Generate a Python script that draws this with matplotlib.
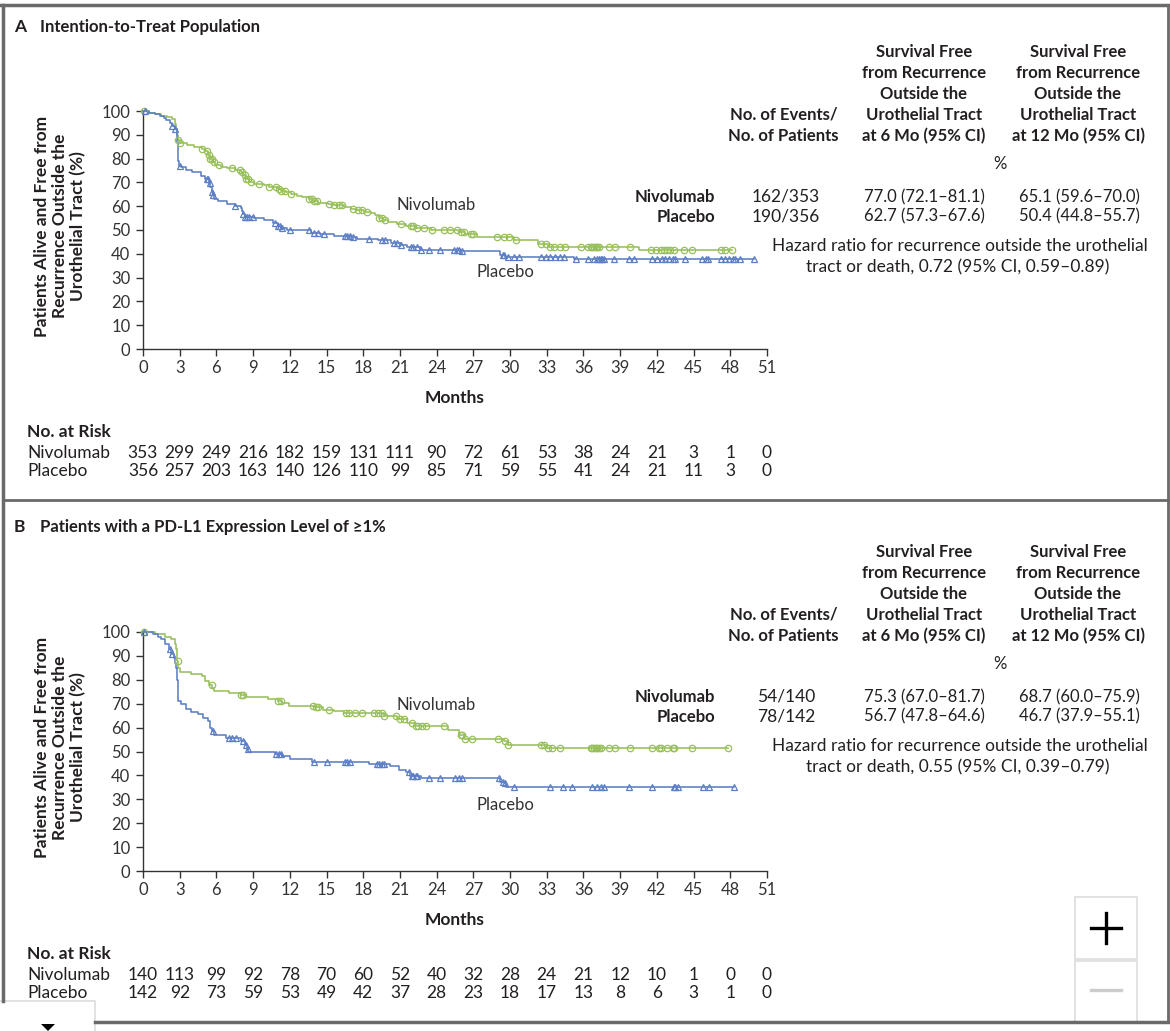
import matplotlib
matplotlib.use("Agg")
import matplotlib.pyplot as plt
import numpy as np
from matplotlib import transforms
from matplotlib.patches import Rectangle, Polygon

plt.rcParams["font.family"] = ["Lato", "DejaVu Sans"]

# ---- data: panel A (intention-to-treat) ----
a_niv_t = [0, 0.5, 1.0, 1.5, 2.0, 2.4, 2.6, 2.7, 2.8, 2.9, 3.0, 3.6, 4.2, 4.8, 5.1,
           5.3, 5.5, 5.7, 5.9, 6.4, 6.9, 7.5, 8.0, 8.2, 8.4, 8.7, 9.1, 9.9, 10.3, 11.0,
           11.3, 11.7, 12.1, 12.6, 13.0, 13.6, 13.9, 14.3, 15.1, 15.6, 16.4, 17.0, 17.5,
           18.1, 18.6, 19.0, 19.3, 19.6, 20.0, 20.8, 21.5, 22.3, 23.5, 25.8, 26.3, 27.3,
           30.3, 32.3, 33.2, 40.5]
a_niv_s = [100, 99.3, 98.6, 98.0, 97.5, 96.5, 94.5, 92.5, 90, 88, 86.5, 85.7, 85.0, 84.2,
           83.0, 81.5, 80.0, 78.5, 77.3, 76.6, 75.9, 75.2, 74.2, 73.0, 71.5, 70.3, 69.5,
           68.7, 68.0, 67.3, 66.5, 65.8, 65.0, 64.4, 63.8, 63.0, 62.2, 61.4, 60.8, 60.3,
           59.7, 59.0, 58.2, 57.6, 57.0, 56.2, 55.2, 54.2, 53.2, 52.5, 51.8, 50.8, 50.0,
           49.3, 48.3, 47.0, 45.6, 44.3, 42.8, 41.4]
a_niv_cens = [0.1, 2.9, 3.0, 4.8, 5.2, 5.4, 5.5, 5.6, 5.8, 6.2, 7.3, 7.9, 8.1, 8.3, 8.4,
              8.6, 8.8, 9.5, 10.3, 10.9, 11.1, 11.3, 11.6, 12.1, 13.6, 13.8, 14.0, 14.2,
              15.2, 15.6, 16.0, 16.3, 17.2, 17.6, 17.9, 18.3, 19.3, 19.5, 19.8, 21.05, 21.9,
              22.1, 22.4, 23.0, 23.6, 24.6, 25.1, 25.7, 26.0, 26.2, 26.8, 27.0, 28.9, 29.5,
              29.9, 30.5, 32.5, 32.9, 33.3, 33.6, 34.1, 34.5, 35.8, 36.4, 36.6, 36.7, 36.9,
              37.0, 37.1, 37.3, 38.1, 38.6, 39.8, 41.5, 41.9, 42.3, 42.6, 42.8, 43.1, 43.4,
              44.2, 44.9, 47.2, 47.6, 48.1]
a_pla_t = [0, 0.5, 1.0, 1.4, 1.7, 1.9, 2.2, 2.4, 2.6, 2.75, 2.8, 2.85, 2.9, 2.95, 3.1,
           3.5, 4.0, 4.7, 5.1, 5.4, 5.5, 5.6, 5.7, 5.8, 6.1, 6.9, 7.5, 8.0, 8.1, 8.2, 8.3,
           9.1, 9.9, 10.6, 11.0, 11.4, 11.8, 13.7, 14.5, 15.6, 17.0, 17.5, 19.2, 20.3,
           21.1, 21.6, 22.7, 26.0, 29.2, 29.6, 35.2]
a_pla_s = [100, 99.2, 98.6, 98.0, 97.2, 96.2, 95.0, 93.8, 92.5, 90.5, 87, 83, 79, 77,
           76.3, 75.3, 74.2, 72.8, 71.4, 69.6, 68.0, 66.0, 64.5, 63.0, 62.0, 61.0, 60.2,
           59.4, 58.0, 56.8, 55.5, 54.9, 54.2, 52.9, 51.8, 50.8, 50.2, 48.7, 48.2, 47.6,
           47.1, 46.1, 45.7, 44.7, 43.7, 42.7, 41.8, 41.0, 39.6, 38.8, 37.8]
a_pla_cens = [0.2, 2.4, 2.6, 3.0, 5.2, 5.3, 5.45, 5.6, 5.75, 7.5, 8.2, 8.35, 8.5, 8.7,
              9.0, 10.8, 11.0, 11.2, 11.4, 12.0, 13.6, 14.0, 14.3, 14.8, 16.5, 16.7, 16.9,
              17.2, 18.5, 19.5, 19.8, 20.5, 20.8, 21.1, 21.9, 22.1, 22.4, 22.7, 23.4, 24.3,
              25.4, 25.7, 25.8, 26.1, 29.4, 29.5, 29.8, 30.3, 30.7, 32.5, 32.9, 33.3, 33.7,
              34.1, 34.4, 35.4, 36.4, 36.9, 37.1, 37.3, 37.4, 37.5, 37.7, 38.5, 39.7, 40.1,
              41.6, 42.0, 42.4, 42.7, 43.0, 43.3, 43.5, 44.3, 45.7, 46.0, 46.2, 47.2, 47.6,
              47.9, 48.2, 48.4, 48.8, 49.9]
a_risk_niv = [353, 299, 249, 216, 182, 159, 131, 111, 90, 72, 61, 53, 38, 24, 21, 3, 1, 0]
a_risk_pla = [356, 257, 203, 163, 140, 126, 110, 99, 85, 71, 59, 55, 41, 24, 21, 11, 3, 0]
a_events = ["162/353", "190/356"]
a_six_mo = ["77.0 (72.1\u201381.1)", "62.7 (57.3\u201367.6)"]
a_twelve_mo = ["65.1 (59.6\u201370.0)", "50.4 (44.8\u201355.7)"]
a_hr = ["Hazard ratio for recurrence outside the urothelial",
        "tract or death, 0.72 (95% CI, 0.59\u20130.89)"]

# ---- data: panel B (PD-L1 >= 1%) ----
b_niv_t = [0, 1.0, 1.8, 2.3, 2.6, 2.7, 2.8, 2.9, 3.0, 3.9, 4.85, 5.1, 5.4, 5.65, 5.8,
           7.0, 8.0, 8.4, 10.2, 11.0, 11.4, 11.9, 14.0, 14.7, 15.6, 16.4, 19.7, 20.8,
           21.6, 22.2, 24.9, 25.8, 26.2, 29.5, 29.8, 33.0]
b_niv_s = [100, 99, 98, 97, 95, 93, 88, 85, 83.2, 82.4, 81.5, 79.7, 78, 76.5, 75.2,
           74.4, 73.7, 72.6, 71.9, 71.2, 70.3, 68.9, 68.5, 67.5, 66.8, 66.2, 65.0, 63.4,
           61.8, 60.5, 59.1, 57.0, 55.3, 54.2, 52.8, 51.4]
b_niv_cens = [0.05, 2.85, 5.6, 8.0, 8.2, 11.0, 11.3, 13.9, 14.1, 14.3, 15.2, 16.6, 16.8,
              17.3, 17.9, 18.9, 19.2, 19.5, 19.7, 20.7, 21.0, 21.3, 22.0, 22.3, 22.5, 22.8,
              23.1, 24.6, 26.0, 26.1, 26.3, 26.9, 29.0, 29.6, 29.85, 32.5, 32.8, 33.1, 33.4,
              34.1, 36.6, 36.7, 36.9, 37.0, 37.1, 37.3, 37.4, 38.1, 38.6, 39.8, 41.6, 42.2,
              42.3, 42.8, 43.3, 43.4, 44.9, 47.8]
b_pla_t = [0, 0.8, 1.2, 1.5, 1.8, 2.1, 2.3, 2.5, 2.6, 2.7, 2.8, 2.85, 2.9, 3.1, 3.5,
           3.9, 4.5, 4.9, 5.3, 5.5, 5.6, 5.8, 6.8, 8.0, 8.3, 8.5, 8.6, 10.8, 11.4, 12.0,
           13.8, 18.2, 18.5, 20.2, 20.9, 21.5, 21.8, 22.7, 29.2, 29.5, 29.7]
b_pla_s = [100, 99, 98, 97, 95, 93, 91, 89, 87, 85, 80, 75, 71, 69.7, 67.6, 66.4, 65.7,
           64, 62.6, 59.9, 58.5, 57.1, 55.7, 54.3, 52.9, 51, 50, 48.9, 48, 47, 45.8, 45.5,
           44.9, 43.8, 42.4, 41.3, 39.6, 38.9, 37.4, 36.8, 35.3]
b_pla_cens = [0.1, 2.2, 2.4, 5.7, 7.0, 7.3, 7.6, 8.2, 8.4, 8.55, 10.9, 11.1, 11.3, 14.0,
              15.0, 16.5, 16.7, 16.9, 19.1, 19.3, 19.5, 19.7, 21.7, 22.0, 22.1, 22.3, 22.4,
              23.4, 24.3, 25.5, 25.8, 26.1, 29.1, 29.4, 29.6, 30.3, 33.3, 34.3, 35.1, 36.7,
              37.1, 37.4, 37.7, 39.7, 41.6, 43.4, 43.5, 43.7, 45.8, 46.3, 48.3]
b_risk_niv = [140, 113, 99, 92, 78, 70, 60, 52, 40, 32, 28, 24, 21, 12, 10, 1, 0, 0]
b_risk_pla = [142, 92, 73, 59, 53, 49, 42, 37, 28, 23, 18, 17, 13, 8, 6, 3, 1, 0]
b_events = ["54/140", "78/142"]
b_six_mo = ["75.3 (67.0\u201381.7)", "56.7 (47.8\u201364.6)"]
b_twelve_mo = ["68.7 (60.0\u201375.9)", "46.7 (37.9\u201355.1)"]
b_hr = ["Hazard ratio for recurrence outside the urothelial",
        "tract or death, 0.55 (95% CI, 0.39\u20130.79)"]

months = list(range(0, 52, 3))
groups = ["Nivolumab", "Placebo"]
col6_head = ["Survival Free", "from Recurrence", "Outside the", "Urothelial Tract",
             "at 6 Mo (95% CI)"]
col12_head = ["Survival Free", "from Recurrence", "Outside the", "Urothelial Tract",
              "at 12 Mo (95% CI)"]
events_head = ["No. of Events/", "No. of Patients"]
ylabel_lines = ["Patients Alive and Free from", "Recurrence Outside the",
                "Urothelial Tract (%)"]

GREEN = "#98c05a"
BLUE = "#5b7ec4"
INK = "#231f20"
W, H = 1170, 1031

fig = plt.figure(figsize=(W / 100, H / 100), dpi=100)
bg = fig.add_axes([0, 0, 1, 1], zorder=0)
bg.set_xlim(0, W)
bg.set_ylim(H, 0)
bg.axis("off")


def txt(x, y, s, size=12, bold=False, ha="left", **kw):
    bg.text(x, y, s, fontsize=size, fontweight="bold" if bold else "normal",
            ha=ha, va="center", color=kw.pop("color", INK), **kw)


def km(ax, t, s, cens, color, marker):
    t = np.asarray(t, float)
    s = np.asarray(s, float)
    c = np.asarray(cens, float)
    tt = np.append(t, c.max())
    ss = np.append(s, s[-1])
    ax.step(tt, ss, where="post", color=color, lw=1.15, clip_on=False, zorder=3)
    idx = np.searchsorted(t, c, side="right") - 1
    ax.plot(c, s[idx], ls="none", marker=marker, mfc="none", mec=color, ms=4.6,
            mew=0.9, clip_on=False, zorder=4)


panels = [
    dict(letter="A", title="Intention-to-Treat Population", dy=0, ax_top=111,
         ax_bot=349, niv=(a_niv_t, a_niv_s, a_niv_cens), pla=(a_pla_t, a_pla_s, a_pla_cens),
         risk=(a_risk_niv, a_risk_pla), events=a_events, six=a_six_mo,
         twelve=a_twelve_mo, hr=a_hr, lab_niv=205, lab_pla=272),
    dict(letter="B", title="Patients with a PD-L1 Expression Level of \u22651%", dy=500,
         ax_top=632, ax_bot=871, niv=(b_niv_t, b_niv_s, b_niv_cens),
         pla=(b_pla_t, b_pla_s, b_pla_cens), risk=(b_risk_niv, b_risk_pla),
         events=b_events, six=b_six_mo, twelve=b_twelve_mo, hr=b_hr,
         lab_niv=705, lab_pla=805),
]

for p in panels:
    dy = p["dy"]
    top, bot = p["ax_top"], p["ax_bot"]
    ax = fig.add_axes([143 / W, 1 - bot / H, 624 / W, (bot - top) / H], zorder=2)
    ax.patch.set_alpha(0)
    ax.set_xlim(0, 51)
    ax.set_ylim(0, 100)
    ax.set_xticks(months)
    ax.set_yticks(range(0, 101, 10))
    for sp in ["top", "right"]:
        ax.spines[sp].set_visible(False)
    for sp in ["left", "bottom"]:
        ax.spines[sp].set_color("#333333")
        ax.spines[sp].set_linewidth(1.0)
    ax.tick_params(direction="out", length=5, width=1, colors="#333333",
                   labelsize=12, pad=3)
    ax.tick_params(axis="y", pad=4)
    km(ax, *p["niv"], GREEN, "o")
    km(ax, *p["pla"], BLUE, "^")

    # titles and axis labels
    txt(14, 27 + dy, p["letter"], size=12.5, bold=True)
    txt(40, 27 + dy, p["title"], size=12, bold=True)
    for i, line in enumerate(ylabel_lines):
        bg.text(42 + 18 * i, (top + bot) / 2 - 4, line, rotation=90, ha="center",
                va="center", fontsize=12.5, fontweight="bold", color=INK)
    txt(455, bot + 49, "Months", size=12.5, bold=True, ha="center")
    txt(436, p["lab_niv"], "Nivolumab", size=12, ha="center", color="#333333")
    txt(505, p["lab_pla"], "Placebo", size=12, ha="center", color="#333333")

    # numbers at risk
    rb = bot + 83
    txt(27, rb, "No. at Risk", size=12.5, bold=True)
    trans = transforms.blended_transform_factory(ax.transData, bg.transData)
    for k, (name, row) in enumerate(zip(groups, p["risk"])):
        yy = rb + 21 + 18 * k
        txt(27, yy, name, size=12.5)
        for m, n in zip(months, row):
            bg.text(m, yy, str(n), transform=trans, ha="center", va="center",
                    fontsize=12.5, color=INK)

    # summary table
    for i, line in enumerate(col6_head):
        txt(924, 52 + dy + 21 * i, line, size=12, bold=True, ha="center")
    for i, line in enumerate(col12_head):
        txt(1078, 52 + dy + 21 * i, line, size=12, bold=True, ha="center")
    for i, line in enumerate(events_head):
        txt(838, 115 + dy + 21 * i, line, size=12, bold=True, ha="right")
    txt(1000, 164 + dy, "%", size=12, ha="center")
    for k, name in enumerate(groups):
        yy = 197 + dy + 19.5 * k
        txt(715, yy, name, size=12, bold=True, ha="right")
        txt(786, yy, p["events"][k], size=12.5, ha="center")
        txt(924, yy, p["six"][k], size=12, ha="center")
        txt(1079, yy, p["twelve"][k], size=12, ha="center")
    txt(960, 246 + dy, p["hr"][0], size=12.5, ha="center")
    txt(958, 267 + dy, p["hr"][1], size=12.5, ha="center")

# frame
fc = "#6a6a6a"
bg.plot([0, W], [5, 5], color=fc, lw=2.5)
bg.plot([3, 3], [5, 1001], color=fc, lw=2.5)
bg.plot([1168, 1168], [5, 1022], color=fc, lw=2)
bg.plot([3, 1168], [500, 500], color=fc, lw=2)
bg.plot([95, 1168], [1022, 1022], color=fc, lw=2.5)

# viewer controls present in the screenshot
bg.add_patch(Rectangle((1075, 897), 62, 62, fc="white", ec="#dddddd", lw=1.2))
bg.add_patch(Rectangle((1075, 961), 62, 62, fc="white", ec="#dddddd", lw=1.2))
bg.plot([1091, 1121], [928, 928], color="black", lw=2.4)
bg.plot([1106, 1106], [913, 943], color="black", lw=2.4)
bg.plot([1091, 1121], [990, 990], color="#cccccc", lw=2.4)
bg.add_patch(Rectangle((-2, 1001), 97, 40, fc="white", ec="#dddddd", lw=1.2))
bg.add_patch(Polygon([(41, 1024), (55, 1024), (48, 1031)], closed=True, fc="black"))

fig.savefig("out.png", dpi=100)
